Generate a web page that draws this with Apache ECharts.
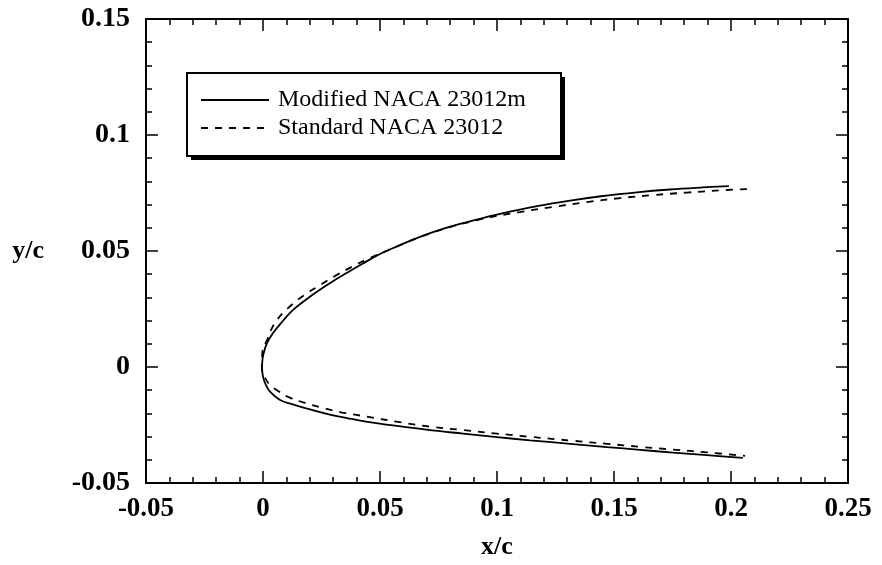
<!DOCTYPE html>
<html>
<head>
<meta charset="utf-8">
<script src="https://cdn.jsdelivr.net/npm/echarts@6/dist/echarts.min.js"></script>
<style>
  html, body { margin: 0; padding: 0; background: #fff; }
  #main { width: 882px; height: 565px; }
</style>
</head>
<body>
<div id="main"></div>
<script>
// profile points [x/c, y/c], leading edge -> trailing edge
var modifiedUpper = [
  [-0.0004, -0.0004], [-0.0003, 0.0022], [0.0001, 0.0052], [0.0017, 0.0103],
  [0.0043, 0.0147], [0.0081, 0.0194], [0.0124, 0.0242], [0.0179, 0.0287],
  [0.0235, 0.0328], [0.0299, 0.0370], [0.0359, 0.0406], [0.0427, 0.0446],
  [0.0500, 0.0487], [0.0573, 0.0520], [0.0641, 0.0549], [0.0714, 0.0577],
  [0.0786, 0.0601], [0.0855, 0.0620], [0.0927, 0.0639], [0.1026, 0.0663],
  [0.1171, 0.0693], [0.1312, 0.0717], [0.1453, 0.0737], [0.1598, 0.0753],
  [0.1739, 0.0765], [0.1880, 0.0774], [0.1991, 0.0780]
];
var modifiedLower = [
  [-0.0004, -0.0004], [-0.0002, -0.0030], [0.0004, -0.0056], [0.0013, -0.0078],
  [0.0030, -0.0106], [0.0073, -0.0142], [0.0137, -0.0164], [0.0209, -0.0185],
  [0.0286, -0.0205], [0.0359, -0.0220], [0.0427, -0.0233], [0.0573, -0.0254],
  [0.0714, -0.0272], [0.0855, -0.0287], [0.1000, -0.0302], [0.1141, -0.0316],
  [0.1325, -0.0332], [0.1470, -0.0345], [0.1611, -0.0357], [0.1752, -0.0369],
  [0.1897, -0.0380], [0.2051, -0.0392]
];
var standardUpper = [
  [-0.0005, 0.0000], [-0.0004, 0.0030], [-0.0003, 0.0060], [0.0017, 0.0116],
  [0.0051, 0.0190], [0.0107, 0.0254], [0.0171, 0.0306], [0.0244, 0.0353],
  [0.0316, 0.0397], [0.0380, 0.0432], [0.0444, 0.0464], [0.0513, 0.0494],
  [0.0714, 0.0576], [0.0927, 0.0636], [0.1098, 0.0668], [0.1239, 0.0690],
  [0.1385, 0.0711], [0.1526, 0.0728], [0.1667, 0.0741], [0.1812, 0.0752],
  [0.1983, 0.0763], [0.2068, 0.0767]
];
var standardLower = [
  [-0.0005, 0.0000], [-0.0001, -0.0025], [0.0009, -0.0047], [0.0030, -0.0078],
  [0.0064, -0.0103], [0.0107, -0.0129], [0.0179, -0.0155], [0.0244, -0.0173],
  [0.0329, -0.0194], [0.0444, -0.0214], [0.0585, -0.0238], [0.0714, -0.0257],
  [0.0855, -0.0272], [0.1000, -0.0287], [0.1141, -0.0301], [0.1325, -0.0318],
  [0.1470, -0.0331], [0.1611, -0.0344], [0.1752, -0.0356], [0.1897, -0.0368],
  [0.2060, -0.0383]
];
var seriesNames = ['Modified NACA 23012m', 'Standard NACA 23012'];

// one path per profile: upper TE -> LE -> lower TE
function profile(upper, lower) {
  return upper.slice().reverse().concat(lower.slice(1));
}

var myChart = echarts.init(document.getElementById('main'));

var font = 'Liberation Serif, Times New Roman, serif';
var nameStyle = { fontFamily: font, fontWeight: 'bold', fontSize: 26, color: '#000' };

function axis(extra) {
  var a = {
    type: 'value',
    interval: 0.05,
    splitLine: { show: false },
    axisLine: { show: true, onZero: false, lineStyle: { color: '#000', width: 2 } },
    axisTick: { show: true, inside: true, length: 12, lineStyle: { color: '#000', width: 1.5 } },
    minorTick: { show: true, splitNumber: 5, length: 6, lineStyle: { color: '#000', width: 1.5 } },
    minorSplitLine: { show: false }
  };
  for (var k in extra) a[k] = extra[k];
  return a;
}

var option = {
  backgroundColor: '#fff',
  animation: false,
  grid: { left: 146, right: 34, top: 19, bottom: 82, containLabel: false, outerBoundsMode: 'none' },
  // legend frame with its hard black drop shadow
  graphic: [
    { type: 'rect', z: 1, left: 191, top: 77, shape: { width: 374, height: 83 }, style: { fill: '#000' } },
    { type: 'rect', z: 2, left: 186, top: 72, shape: { width: 374, height: 83 },
      style: { fill: '#fff', stroke: '#000', lineWidth: 2 } }
  ],
  legend: {
    orient: 'vertical',
    z: 10,
    left: 200,
    top: 88,
    padding: 0,
    itemWidth: 68,
    itemHeight: 14,
    itemGap: 4,
    itemStyle: { opacity: 0 },
    textStyle: { fontFamily: font, fontSize: 24, color: '#000', padding: [0, 0, 0, 4] },
    data: seriesNames
  },
  xAxis: [
    axis({
      min: -0.05, max: 0.25, position: 'bottom',
      name: 'x/c', nameLocation: 'middle', nameGap: 51,
      nameTextStyle: nameStyle,
      axisLabel: { margin: 13, fontFamily: font, fontWeight: 'bold', fontSize: 27, color: '#000' }
    }),
    axis({ min: -0.05, max: 0.25, position: 'top', axisLabel: { show: false } })
  ],
  yAxis: [
    axis({
      min: -0.05, max: 0.15, position: 'left',
      name: 'y/c', nameLocation: 'middle', nameGap: 102, nameRotate: 0,
      nameTextStyle: nameStyle,
      axisLabel: { margin: 16, fontFamily: font, fontWeight: 'bold', fontSize: 28, color: '#000' }
    }),
    axis({ min: -0.05, max: 0.15, position: 'right', axisLabel: { show: false } })
  ],
  series: [
    {
      name: seriesNames[0],
      type: 'line',
      symbol: 'none',
      smooth: 0.4,
      lineStyle: { color: '#000', width: 1.8, type: 'solid' },
      data: profile(modifiedUpper, modifiedLower)
    },
    {
      name: seriesNames[1],
      type: 'line',
      symbol: 'none',
      smooth: 0.4,
      lineStyle: { color: '#000', width: 1.8, type: [7, 7] },
      data: profile(standardUpper, standardLower)
    }
  ]
};

myChart.setOption(option);
</script>
</body>
</html>
